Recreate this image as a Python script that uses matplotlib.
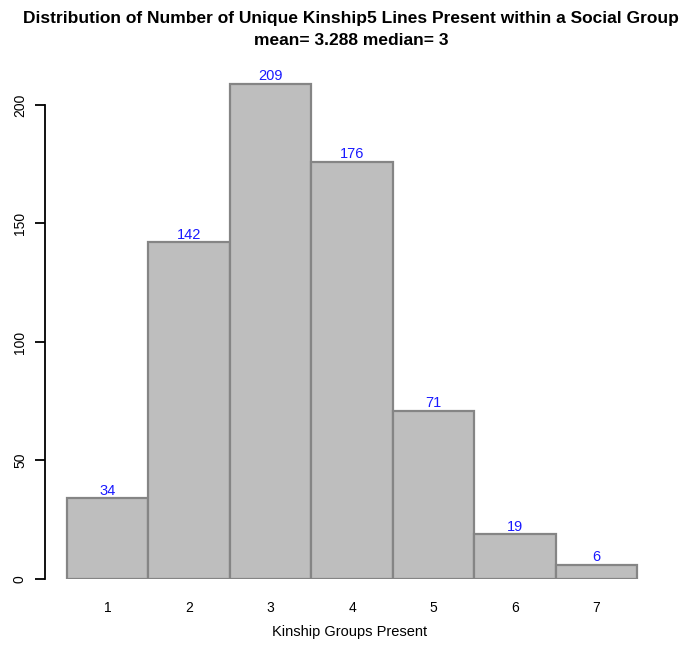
import numpy as np
import matplotlib.pyplot as plt

plt.rcParams['font.family'] = ['Liberation Sans', 'DejaVu Sans']

# counts of social groups by number of kinship lines present
groups = [1, 2, 3, 4, 5, 6, 7]
counts = [34, 142, 209, 176, 71, 19, 6]
ytick_vals = [0, 50, 100, 150, 200]

mean_val = 3.288
median_val = 3

fig = plt.figure(figsize=(6.86, 6.54), dpi=100)
ax = fig.add_axes([0.0656, 0.1147, 0.8965, 0.7973])

bars = ax.bar(groups, counts, width=1.0, color='#bebebe',
              edgecolor='#858585', linewidth=1.6)

for x, c in zip(groups, counts):
    ax.annotate(str(c), (x, c), xytext=(0, 0.3), textcoords='offset points',
                ha='center', va='bottom', color='#1a1aff', fontsize=10.5)

ax.set_xlim(0.23, 7.78)
ax.set_ylim(0, 220)

for side in ['top', 'right', 'bottom']:
    ax.spines[side].set_visible(False)
ax.spines['left'].set_bounds(0, 200)
ax.spines['left'].set_linewidth(1.3)

ax.set_yticks(ytick_vals)
ax.set_yticklabels([str(v) for v in ytick_vals], rotation=90, va='center',
                   fontsize=10)
ax.tick_params(axis='y', length=7, width=1.3, pad=6)
ax.set_xticks(groups)
ax.set_xticklabels([str(g) for g in groups], fontsize=10)
ax.tick_params(axis='x', length=0, pad=16)

fig.text(0.51, 0.034, 'Kinship Groups Present', ha='center', va='center',
         fontsize=10.5)
fig.text(0.512, 0.972, 'Distribution of Number of Unique Kinship5 Lines Present within a Social Group',
         ha='center', va='center', fontsize=12.5, fontweight='bold')
fig.text(0.512, 0.938, 'mean= %.3f median= %d' % (mean_val, median_val),
         ha='center', va='center', fontsize=12.5, fontweight='bold')

fig.savefig('out.png', dpi=100)
